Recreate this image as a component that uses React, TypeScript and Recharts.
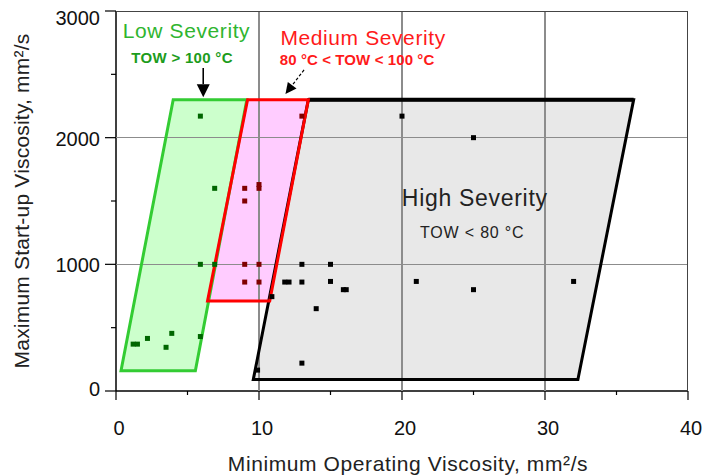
import React from 'react';
import { ComposedChart, Scatter, XAxis, YAxis } from 'recharts';

// ---- data ----
const xTicks = [0, 5, 10, 15, 20, 25, 30, 35, 40];
const xMajor = [0, 10, 20, 30, 40];
const yTicks = [0, 500, 1000, 1500, 2000, 2500, 3000];
const yMajor = [0, 1000, 2000, 3000];
const gridX = [10, 20, 30];
const gridY = [1000, 2000];

// severity zones (x = min operating viscosity, y = max start-up viscosity)
const lowZone = [
  { x: 0.35, y: 160 },
  { x: 4.0, y: 2300 },
  { x: 9.15, y: 2300 },
  { x: 5.55, y: 160 },
];
const mediumZone = [
  { x: 6.4, y: 710 },
  { x: 9.2, y: 2300 },
  { x: 13.45, y: 2300 },
  { x: 10.75, y: 710 },
];
const highZone = [
  { x: 9.6, y: 90 },
  { x: 13.45, y: 2300 },
  { x: 36.2, y: 2300 },
  { x: 32.3, y: 90 },
];

const lowPoints = [
  { x: 5.9, y: 2170 },
  { x: 6.9, y: 1600 },
  { x: 5.9, y: 1000 },
  { x: 6.9, y: 1000 },
  { x: 1.2, y: 370 },
  { x: 1.5, y: 370 },
  { x: 2.2, y: 415 },
  { x: 3.9, y: 455 },
  { x: 3.5, y: 345 },
  { x: 5.9, y: 430 },
];
const mediumPoints = [
  { x: 13.0, y: 2170 },
  { x: 9.0, y: 1600 },
  { x: 10.0, y: 1600 },
  { x: 10.0, y: 1630 },
  { x: 9.0, y: 1500 },
  { x: 9.0, y: 1000 },
  { x: 10.0, y: 1000 },
  { x: 9.0, y: 860 },
  { x: 10.0, y: 860 },
];
const highPoints = [
  { x: 20, y: 2170 },
  { x: 25, y: 2000 },
  { x: 13, y: 1000 },
  { x: 15, y: 1000 },
  { x: 11.8, y: 860 },
  { x: 12.1, y: 860 },
  { x: 13, y: 860 },
  { x: 15, y: 865 },
  { x: 15.9, y: 800 },
  { x: 16.1, y: 800 },
  { x: 10.9, y: 745 },
  { x: 14, y: 650 },
  { x: 13, y: 220 },
  { x: 9.9, y: 165 },
  { x: 21, y: 865 },
  { x: 25, y: 800 },
  { x: 32, y: 865 },
];

const lowArrow = [
  { x: 6.1, y: 2550 },
  { x: 6.1, y: 2320 },
];
const mediumArrow = [
  { x: 13.15, y: 2535 },
  { x: 11.85, y: 2345 },
];

// ---- layout of annotations (not data) ----
const FONT = '"Liberation Sans", Arial, sans-serif';
const annotations = [
  { text: 'Low Severity', x: 4.93, y: 2784, color: '#2fb52f', size: 21, weight: 400, ls: 0.6 },
  { text: 'TOW > 100 °C', x: 4.62, y: 2587, color: '#1c9c1c', size: 15, weight: 700, ls: 0.3 },
  { text: 'Medium Severity', x: 17.28, y: 2731, color: '#ff1a1a', size: 21, weight: 400, ls: 0.6 },
  { text: '80 °C < TOW < 100 °C', x: 16.86, y: 2573, color: '#ff1a1a', size: 15, weight: 700, ls: 0.1 },
  { text: 'High Severity', x: 25.09, y: 1460, color: '#222222', size: 23, weight: 400, ls: 0.7 },
  { text: 'TOW < 80 °C', x: 24.91, y: 1205, color: '#222222', size: 16, weight: 400, ls: 0.8 },
];

const gridSegments = [
  ...gridX.flatMap((v) => [
    { x: v, y: 0 },
    { x: v, y: 3000 },
  ]),
  ...gridY.flatMap((v) => [
    { x: 0, y: v },
    { x: 40, y: v },
  ]),
];
const borderSegments = [
  { x: 0, y: 3000 },
  { x: 40, y: 3000 },
  { x: 40, y: 3000 },
  { x: 40, y: 0 },
];

// ---- renderers ----
const none = () => <g />;

const polyFill = (fill: string) => (props: any) => {
  const pts = (props.points || []) as { x: number; y: number }[];
  return <polygon points={pts.map((p) => `${p.x},${p.y}`).join(' ')} fill={fill} stroke="none" />;
};

const polyStroke = (stroke: string, width: number, topWidth?: number) => (props: any) => {
  const pts = (props.points || []) as { x: number; y: number }[];
  return (
    <g>
      <polygon
        points={pts.map((p) => `${p.x},${p.y}`).join(' ')}
        fill="none"
        stroke={stroke}
        strokeWidth={width}
        strokeLinejoin="miter"
      />
      {topWidth && pts.length > 2 ? (
        <line x1={pts[1].x} y1={pts[1].y} x2={pts[2].x} y2={pts[2].y} stroke={stroke} strokeWidth={topWidth} />
      ) : null}
    </g>
  );
};

const segments = (stroke: string, width: number) => (props: any) => {
  const pts = (props.points || []) as { x: number; y: number }[];
  const out: React.ReactNode[] = [];
  for (let i = 0; i + 1 < pts.length; i += 2) {
    out.push(
      <line
        key={i}
        x1={pts[i].x}
        y1={pts[i].y}
        x2={pts[i + 1].x}
        y2={pts[i + 1].y}
        stroke={stroke}
        strokeWidth={width}
        shapeRendering="crispEdges"
      />
    );
  }
  return <g>{out}</g>;
};

const arrow = (dashed: boolean, headLen: number, headHalf: number) => (props: any) => {
  const pts = (props.points || []) as { x: number; y: number }[];
  if (pts.length < 2) return <g />;
  const [a, b] = pts;
  const dx = b.x - a.x;
  const dy = b.y - a.y;
  const len = Math.sqrt(dx * dx + dy * dy) || 1;
  const ux = dx / len;
  const uy = dy / len;
  const bx = b.x - ux * headLen;
  const by = b.y - uy * headLen;
  const px = -uy * headHalf;
  const py = ux * headHalf;
  return (
    <g>
      <line
        x1={a.x}
        y1={a.y}
        x2={bx}
        y2={by}
        stroke="#000"
        strokeWidth={dashed ? 1.2 : 1.6}
        strokeDasharray={dashed ? '3 2' : undefined}
      />
      <polygon points={`${b.x},${b.y} ${bx + px},${by + py} ${bx - px},${by - py}`} fill="#000" />
    </g>
  );
};

const square = (fill: string) => (p: any) => (
  <rect x={p.cx - 2.5} y={p.cy - 2.5} width={5} height={5} fill={fill} />
);

const textShape = (a: (typeof annotations)[number]) => (p: any) => (
  <text
    x={p.cx}
    y={p.cy}
    textAnchor="middle"
    fill={a.color}
    fontSize={a.size}
    fontWeight={a.weight}
    letterSpacing={a.ls}
    fontFamily={FONT}
  >
    {a.text}
  </text>
);

const XTick = (p: any) => {
  const v = p.payload.value;
  const major = xMajor.includes(v);
  return (
    <g>
      <line x1={p.x} x2={p.x} y1={p.y} y2={p.y + (major ? 9 : 4)} stroke="#000" strokeWidth={1.2} />
      {major ? (
        <text x={p.x + 3} y={p.y + 44} textAnchor="middle" fontSize={20} fontFamily={FONT} fill="#111">
          {v}
        </text>
      ) : null}
    </g>
  );
};

const YTick = (p: any) => {
  const v = p.payload.value;
  const major = yMajor.includes(v);
  const dy = v === 3000 ? 14 : v === 0 ? 5 : 8;
  return (
    <g>
      <line x1={p.x - (major ? 11 : 5)} x2={p.x} y1={p.y} y2={p.y} stroke="#000" strokeWidth={1.2} />
      {major ? (
        <text x={p.x - 16} y={p.y + dy} textAnchor="end" fontSize={20} fontFamily={FONT} fill="#111">
          {v}
        </text>
      ) : null}
    </g>
  );
};

const XLabel = (props: any) => {
  const vb = props.viewBox || { x: 116, y: 391, width: 572, height: 85 };
  return (
    <text
      x={vb.x + vb.width / 2 + 6}
      y={vb.y + 80}
      textAnchor="middle"
      fontSize={21}
      letterSpacing={0.6}
      fontFamily={FONT}
      fill="#222"
    >
      Minimum Operating Viscosity, mm²/s
    </text>
  );
};

const YLabel = (props: any) => {
  const vb = props.viewBox || { x: 0, y: 11, width: 116, height: 380 };
  const cx = 29;
  const cy = vb.y + vb.height / 2;
  return (
    <text
      x={cx}
      y={cy}
      transform={`rotate(-90, ${cx}, ${cy})`}
      textAnchor="middle"
      fontSize={21}
      letterSpacing={0.2}
      fontFamily={FONT}
      fill="#222"
    >
      Maximum Start-up Viscosity, mm²/s
    </text>
  );
};

export default function App() {
  return (
    <div style={{ position: 'absolute', left: 0, top: 0, width: 705, height: 476, background: '#fff' }}>
      <ComposedChart width={705} height={476} margin={{ top: 11, right: 17, bottom: 0, left: 0 }}>
        <XAxis
          type="number"
          dataKey="x"
          domain={[0, 40]}
          ticks={xTicks}
          interval={0}
          tickSize={0}
          tickMargin={0}
          tickLine={false}
          tick={<XTick />}
          axisLine={{ stroke: '#000', strokeWidth: 1.5 }}
          height={85}
          allowDataOverflow
          label={<XLabel />}
        />
        <YAxis
          type="number"
          dataKey="y"
          domain={[0, 3000]}
          ticks={yTicks}
          interval={0}
          tickSize={0}
          tickMargin={0}
          tickLine={false}
          tick={<YTick />}
          axisLine={{ stroke: '#000', strokeWidth: 1.5 }}
          width={116}
          allowDataOverflow
          label={<YLabel />}
        />

        {/* zone fills */}
        <Scatter data={highZone} line={polyFill('#e8e8e8')} shape={none} isAnimationActive={false} />
        <Scatter data={lowZone} line={polyFill('#ccffcc')} shape={none} isAnimationActive={false} />
        <Scatter data={mediumZone} line={polyFill('#ffccff')} shape={none} isAnimationActive={false} />

        {/* grid and frame */}
        <Scatter data={gridSegments} line={segments('#8c8c8c', 1.5)} shape={none} isAnimationActive={false} />
        <Scatter data={borderSegments} line={segments('#444', 1.5)} shape={none} isAnimationActive={false} />

        {/* zone outlines */}
        <Scatter data={highZone} line={polyStroke('#000', 3, 4)} shape={none} isAnimationActive={false} />
        <Scatter data={lowZone} line={polyStroke('#33cc33', 3)} shape={none} isAnimationActive={false} />
        <Scatter data={mediumZone} line={polyStroke('#ff0000', 3)} shape={none} isAnimationActive={false} />

        {/* observations */}
        <Scatter data={highPoints} shape={square('#000')} isAnimationActive={false} />
        <Scatter data={mediumPoints} shape={square('#800000')} isAnimationActive={false} />
        <Scatter data={lowPoints} shape={square('#006600')} isAnimationActive={false} />

        {/* arrows */}
        <Scatter data={lowArrow} line={arrow(false, 13, 6.5)} shape={none} isAnimationActive={false} />
        <Scatter data={mediumArrow} line={arrow(true, 11, 5.5)} shape={none} isAnimationActive={false} />

        {/* annotation texts */}
        {annotations.map((a) => (
          <Scatter
            key={a.text}
            data={[{ x: a.x, y: a.y }]}
            shape={textShape(a)}
            isAnimationActive={false}
          />
        ))}
      </ComposedChart>
    </div>
  );
}
